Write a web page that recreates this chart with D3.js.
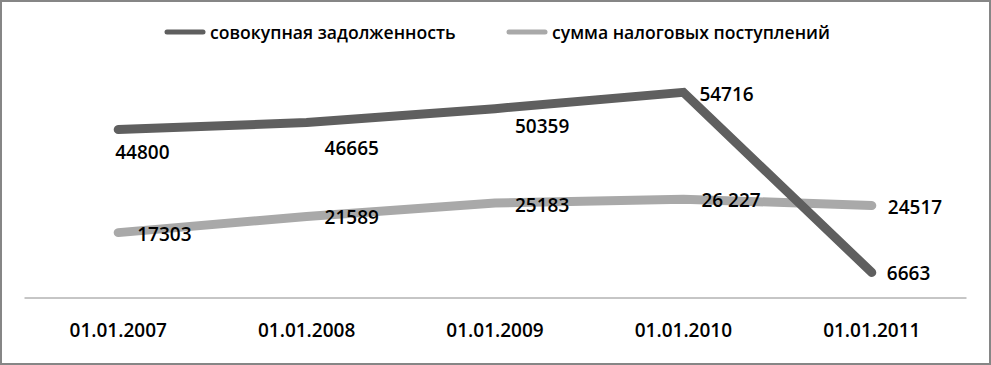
<!DOCTYPE html>
<html>
<head>
<meta charset="utf-8">
<script src="https://cdn.jsdelivr.net/npm/d3@7"></script>
<style>
	body { margin: 0; background: #fff; }
	svg { display: block; }
	text { font-family: "Open Sans", sans-serif; fill: #000; }
</style>
</head>
<body>
<svg id="chart" width="991" height="365"></svg>
<script>
const categories = ['01.01.2007', '01.01.2008', '01.01.2009', '01.01.2010', '01.01.2011'];
const debtValues = [44800, 46665, 50359, 54716, 6663];
const taxValues = [17303, 21589, 25183, 26227, 24517];
const debtLabels = ['44800', '46665', '50359', '54716', '6663'];
const taxLabels = ['17303', '21589', '25183', '26 227', '24517'];
const seriesNames = ['совокупная задолженность', 'сумма налоговых поступлений'];

// label offsets from the point (left edge, vertical centre)
const debtLabelOffsets = [[-3, 22], [18, 25], [20, 17], [16, 2], [15, 0]];
const taxLabelOffsets = [[19, 1], [18, 0], [20, 2], [18, 1], [16, 1]];

const colors = ['#5f5f5f', '#a9a9a9'];

const width = 991, height = 365;
const plot = { left: 24, right: 966, top: 72.5, bottom: 297.5 };

const svg = d3.select('#chart');

// outer frame
svg.append('rect')
	.attr('x', 1).attr('y', 1)
	.attr('width', width - 2).attr('height', height - 2)
	.attr('fill', '#fff')
	.attr('stroke', '#868686')
	.attr('stroke-width', 2);

const x = d3.scaleBand().domain(categories).range([plot.left, plot.right]);
const y = d3.scaleLinear().domain([0, 60000]).range([plot.bottom, plot.top]);
const cx = c => x(c) + x.bandwidth() / 2;

// category axis
const axis = svg.append('g')
	.attr('transform', `translate(0,${Math.round(y(0)) - 0.5})`)
	.call(d3.axisBottom(x).tickSize(0).tickSizeOuter(0).tickPadding(0));
axis.select('.domain').attr('stroke', '#8c8c8c').attr('stroke-width', 1);
axis.selectAll('text')
	.attr('dy', null)
	.attr('y', 32)
	.attr('dominant-baseline', 'central')
	.style('font-family', '"Open Sans", sans-serif')
	.style('font-size', '19px')
	.style('font-weight', 600)
	.attr('fill', '#000');

const series = [
	{ name: seriesNames[0], values: debtValues, labels: debtLabels, offsets: debtLabelOffsets, color: colors[0] },
	{ name: seriesNames[1], values: taxValues, labels: taxLabels, offsets: taxLabelOffsets, color: colors[1] }
];

const line = d3.line()
	.x((d, i) => cx(categories[i]))
	.y(d => y(d));

// light series drawn first so the dark one crosses over it
[series[1], series[0]].forEach(s => {
	svg.append('path')
		.datum(s.values)
		.attr('d', line)
		.attr('fill', 'none')
		.attr('stroke', s.color)
		.attr('stroke-width', 9)
		.attr('stroke-linecap', 'round')
		.attr('stroke-linejoin', 'miter');
});

series.forEach(s => {
	svg.append('g')
		.selectAll('text')
		.data(s.values)
		.join('text')
			.attr('x', (d, i) => cx(categories[i]) + s.offsets[i][0])
			.attr('y', (d, i) => y(d) + s.offsets[i][1])
			.attr('dominant-baseline', 'central')
			.style('font-size', '19px')
			.style('font-weight', 600)
			.text((d, i) => s.labels[i]);
});

// legend
const legendPos = [165, 507];
const legend = svg.append('g');
series.forEach((s, i) => {
	const g = legend.append('g').attr('transform', `translate(${legendPos[i]},32)`);
	g.append('line')
		.attr('x1', 2).attr('x2', 38)
		.attr('stroke', s.color)
		.attr('stroke-width', 5)
		.attr('stroke-linecap', 'round');
	g.append('text')
		.attr('x', 45)
		.attr('dominant-baseline', 'central')
		.style('font-size', '17.6px')
		.style('font-weight', 600)
		.text(s.name);
});
</script>
</body>
</html>
